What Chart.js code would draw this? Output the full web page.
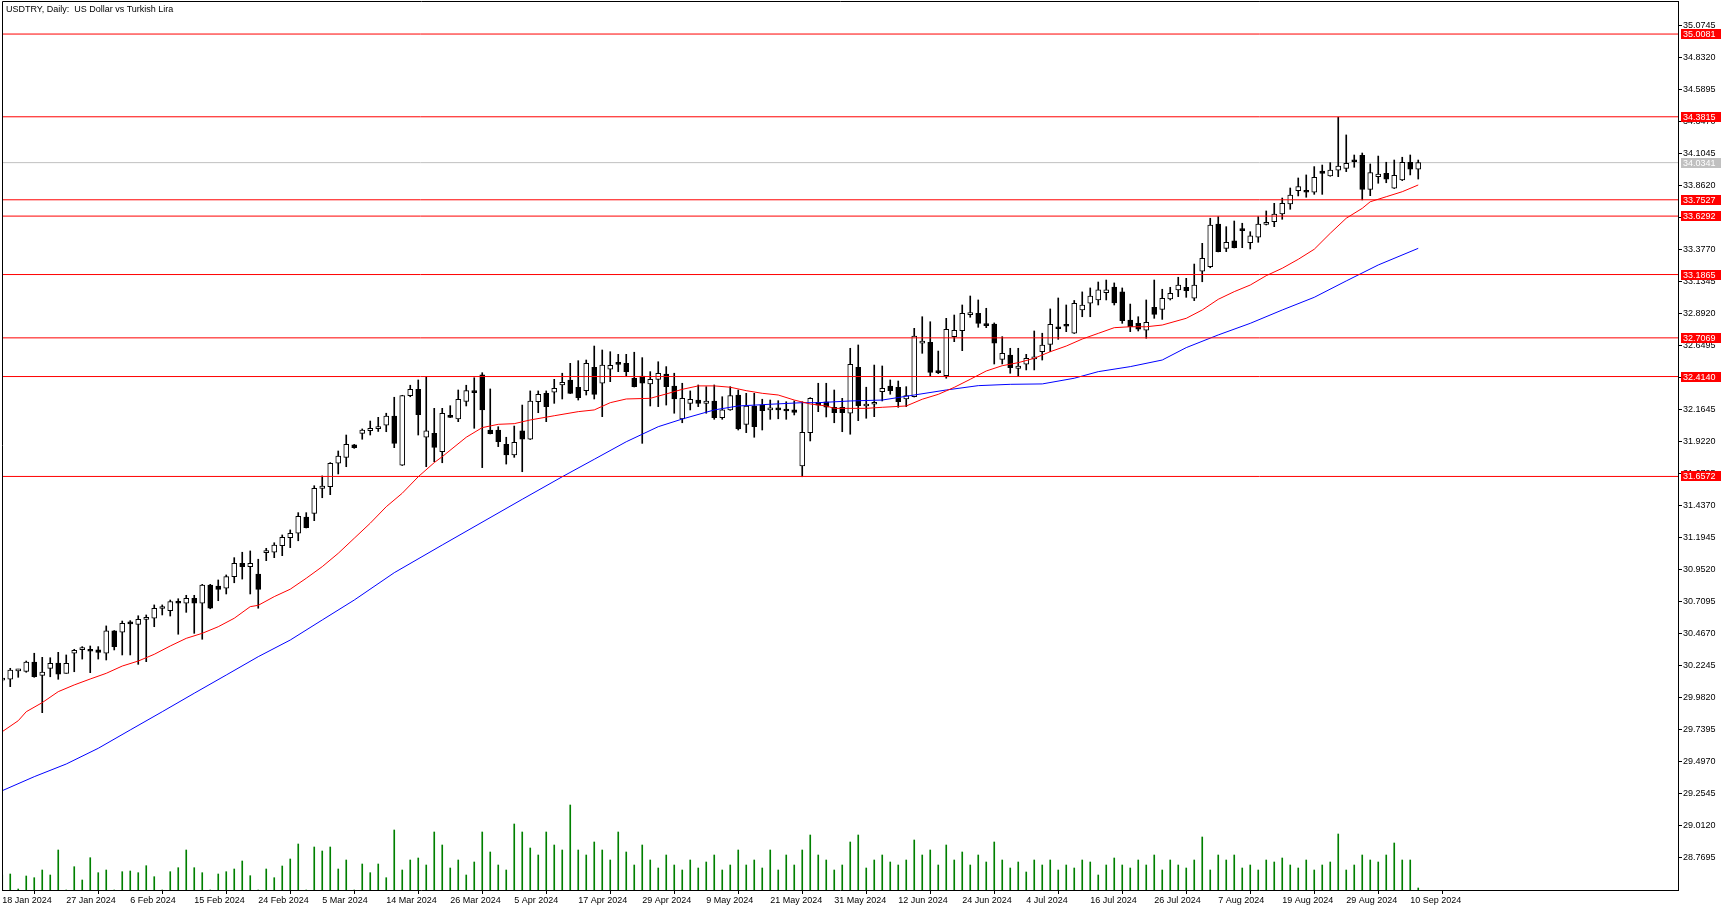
<!DOCTYPE html>
<html lang="en">
<head>
  <meta charset="UTF-8" />
  <title>USDTRY, Daily</title>
  <script src="https://cdn.jsdelivr.net/npm/chart.js"></script>
  <style>
    html, body { margin: 0; padding: 0; background: #fff; }
    #wrap { width: 1731px; height: 911px; position: relative; }
  </style>
</head>
<body>
  <div id="wrap"><canvas id="grafico"></canvas></div>

  <script>
    const title = "USDTRY, Daily:  US Dollar vs Turkish Lira";

    const dates = [
      "18 Jan 2024","19 Jan 2024","20 Jan 2024","22 Jan 2024","23 Jan 2024","24 Jan 2024","25 Jan 2024","26 Jan 2024","27 Jan 2024","29 Jan 2024","30 Jan 2024","31 Jan 2024",
      "1 Feb 2024","2 Feb 2024","3 Feb 2024","5 Feb 2024","6 Feb 2024","7 Feb 2024","8 Feb 2024","9 Feb 2024","10 Feb 2024","12 Feb 2024","13 Feb 2024","14 Feb 2024","15 Feb 2024","16 Feb 2024","17 Feb 2024","19 Feb 2024","20 Feb 2024","21 Feb 2024","22 Feb 2024","23 Feb 2024","24 Feb 2024","26 Feb 2024","27 Feb 2024","28 Feb 2024","29 Feb 2024",
      "1 Mar 2024","2 Mar 2024","4 Mar 2024","5 Mar 2024","6 Mar 2024","7 Mar 2024","8 Mar 2024","9 Mar 2024","11 Mar 2024","12 Mar 2024","13 Mar 2024","14 Mar 2024","15 Mar 2024","18 Mar 2024","19 Mar 2024","20 Mar 2024","21 Mar 2024","22 Mar 2024","25 Mar 2024","26 Mar 2024","27 Mar 2024","28 Mar 2024","29 Mar 2024",
      "1 Apr 2024","2 Apr 2024","3 Apr 2024","4 Apr 2024","5 Apr 2024","8 Apr 2024","9 Apr 2024","10 Apr 2024","11 Apr 2024","12 Apr 2024","15 Apr 2024","16 Apr 2024","17 Apr 2024","18 Apr 2024","19 Apr 2024","22 Apr 2024","23 Apr 2024","24 Apr 2024","25 Apr 2024","26 Apr 2024","29 Apr 2024","30 Apr 2024",
      "1 May 2024","2 May 2024","3 May 2024","6 May 2024","7 May 2024","8 May 2024","9 May 2024","10 May 2024","13 May 2024","14 May 2024","15 May 2024","16 May 2024","17 May 2024","20 May 2024","21 May 2024","22 May 2024","23 May 2024","24 May 2024","27 May 2024","28 May 2024","29 May 2024","30 May 2024","31 May 2024",
      "3 Jun 2024","4 Jun 2024","5 Jun 2024","6 Jun 2024","7 Jun 2024","10 Jun 2024","11 Jun 2024","12 Jun 2024","13 Jun 2024","14 Jun 2024","17 Jun 2024","18 Jun 2024","19 Jun 2024","20 Jun 2024","21 Jun 2024","24 Jun 2024","25 Jun 2024","26 Jun 2024","27 Jun 2024","28 Jun 2024",
      "1 Jul 2024","2 Jul 2024","3 Jul 2024","4 Jul 2024","5 Jul 2024","8 Jul 2024","9 Jul 2024","10 Jul 2024","11 Jul 2024","12 Jul 2024","15 Jul 2024","16 Jul 2024","17 Jul 2024","18 Jul 2024","19 Jul 2024","22 Jul 2024","23 Jul 2024","24 Jul 2024","25 Jul 2024","26 Jul 2024","29 Jul 2024","30 Jul 2024","31 Jul 2024",
      "1 Aug 2024","2 Aug 2024","5 Aug 2024","6 Aug 2024","7 Aug 2024","8 Aug 2024","9 Aug 2024","12 Aug 2024","13 Aug 2024","14 Aug 2024","15 Aug 2024","16 Aug 2024","19 Aug 2024","20 Aug 2024","21 Aug 2024","22 Aug 2024","23 Aug 2024","26 Aug 2024","27 Aug 2024","28 Aug 2024","29 Aug 2024","30 Aug 2024",
      "2 Sep 2024","3 Sep 2024","4 Sep 2024","5 Sep 2024","6 Sep 2024","9 Sep 2024","10 Sep 2024","11 Sep 2024"
    ];

    const opens = [
      30.115,30.121,30.184,30.181,30.252,30.151,30.204,30.244,30.166,30.318,30.346,30.348,30.343,30.318,30.487,30.477,30.545,30.537,30.575,30.583,
      30.657,30.641,30.709,30.697,30.734,30.697,30.835,30.827,30.810,30.898,30.999,30.974,30.918,31.080,31.083,31.133,31.193,31.227,31.350,31.378,
      31.567,31.580,31.757,31.802,31.896,31.984,32.004,32.020,32.045,32.115,31.742,32.269,32.317,31.954,31.984,31.845,32.115,32.092,32.226,32.305,
      32.426,32.009,32.009,31.901,31.820,32.002,31.939,32.223,32.287,32.295,32.350,32.388,32.333,32.307,32.484,32.363,32.469,32.514,32.514,32.401,
      32.418,32.358,32.393,32.433,32.342,32.092,32.211,32.236,32.211,32.229,32.102,32.161,32.274,32.052,32.191,32.198,32.161,32.173,32.161,32.161,
      31.737,31.989,32.219,32.223,32.181,32.181,32.136,32.484,32.191,32.204,32.299,32.342,32.333,32.244,32.261,32.666,32.673,32.448,32.420,32.716,
      32.761,32.883,32.893,32.810,32.812,32.544,32.577,32.476,32.507,32.547,32.602,32.658,32.787,32.804,32.742,32.918,32.969,32.994,33.050,33.092,
      33.055,32.842,32.817,32.766,32.939,32.923,33.001,33.070,33.090,33.007,33.213,33.246,33.569,33.385,33.441,33.529,33.428,33.469,33.567,33.587,
      33.645,33.721,33.822,33.822,33.810,33.971,33.933,33.978,33.991,34.054,34.090,33.832,33.928,33.953,33.840,33.903,34.037,33.984
    ];
    const highs = [
      30.125,30.204,30.197,30.259,30.318,30.287,30.284,30.325,30.305,30.348,30.368,30.373,30.368,30.525,30.490,30.562,30.565,30.602,30.608,30.684,
      30.684,30.721,30.731,30.757,30.757,30.840,30.840,30.873,30.911,31.042,31.083,31.093,31.030,31.113,31.155,31.214,31.252,31.383,31.383,31.587,
      31.661,31.762,31.850,31.971,31.900,32.017,32.077,32.105,32.136,32.257,32.272,32.348,32.388,32.413,32.173,32.173,32.193,32.312,32.348,32.405,
      32.443,32.320,32.034,31.954,32.039,32.198,32.305,32.305,32.305,32.393,32.439,32.514,32.534,32.539,32.645,32.615,32.602,32.582,32.582,32.598,
      32.557,32.451,32.526,32.489,32.439,32.363,32.305,32.350,32.337,32.350,32.261,32.337,32.312,32.287,32.287,32.242,32.236,32.231,32.223,32.229,
      32.223,32.254,32.363,32.363,32.312,32.249,32.628,32.653,32.333,32.501,32.494,32.388,32.380,32.337,32.779,32.867,32.829,32.607,32.855,32.880,
      32.956,33.024,32.994,32.931,32.820,32.716,32.628,32.628,32.582,32.759,32.742,32.926,33.009,32.956,32.990,33.055,33.085,33.130,33.145,33.123,
      33.085,32.963,32.867,32.994,33.145,33.075,33.090,33.166,33.158,33.266,33.423,33.613,33.625,33.549,33.592,33.575,33.511,33.625,33.668,33.726,
      33.766,33.842,33.918,33.941,34.004,34.016,34.034,34.378,34.244,34.092,34.107,34.024,34.084,34.037,34.054,34.075,34.092,34.054
    ];
    const lows = [
      30.100,30.065,30.136,30.174,30.136,29.868,30.140,30.121,30.166,30.178,30.274,30.171,30.274,30.267,30.343,30.305,30.305,30.234,30.254,30.519,
      30.608,30.600,30.462,30.628,30.469,30.424,30.655,30.716,30.767,30.852,30.880,30.767,30.659,31.019,31.042,31.057,31.118,31.170,31.267,31.322,
      31.496,31.519,31.676,31.731,31.870,31.939,31.971,31.998,31.996,31.875,31.740,32.261,31.971,31.731,31.769,31.761,32.103,32.072,32.191,32.022,
      31.724,31.979,31.883,31.751,31.802,31.693,31.937,32.140,32.072,32.211,32.244,32.285,32.236,32.274,32.244,32.110,32.375,32.451,32.413,32.335,
      31.908,32.191,32.186,32.198,32.136,32.064,32.161,32.186,32.136,32.090,32.090,32.158,32.009,31.989,31.954,32.009,32.090,32.094,32.090,32.123,
      31.655,31.926,32.148,32.108,32.064,31.996,31.977,32.080,32.098,32.110,32.229,32.280,32.181,32.186,32.259,32.590,32.418,32.436,32.401,32.678,
      32.610,32.863,32.787,32.784,32.509,32.509,32.439,32.413,32.464,32.464,32.539,32.602,32.696,32.754,32.740,32.867,32.867,32.956,32.994,32.956,
      32.817,32.754,32.759,32.704,32.855,32.847,32.994,33.019,33.014,32.989,33.132,33.238,33.358,33.360,33.388,33.390,33.380,33.431,33.562,33.549,
      33.605,33.681,33.782,33.772,33.794,33.794,33.931,33.928,33.966,33.999,33.752,33.784,33.878,33.882,33.838,33.898,33.941,33.910
    ];
    const closes = [
      30.120,30.191,30.188,30.252,30.140,30.176,30.242,30.159,30.242,30.341,30.350,30.333,30.325,30.487,30.368,30.545,30.540,30.575,30.579,30.659,
      30.661,30.709,30.697,30.734,30.697,30.835,30.659,30.802,30.898,30.999,30.974,30.999,30.802,31.085,31.138,31.196,31.227,31.355,31.269,31.567,
      31.585,31.757,31.812,31.901,31.875,32.009,32.022,32.024,32.115,31.908,32.269,32.317,32.125,32.002,31.878,32.136,32.105,32.242,32.307,32.292,
      32.161,31.981,31.920,31.820,31.916,31.939,32.229,32.279,32.186,32.325,32.370,32.287,32.254,32.514,32.279,32.501,32.499,32.506,32.451,32.337,
      32.363,32.393,32.439,32.337,32.244,32.249,32.242,32.211,32.229,32.102,32.161,32.269,32.017,32.191,32.034,32.155,32.173,32.161,32.153,32.143,
      31.992,32.249,32.198,32.181,32.140,32.140,32.507,32.193,32.204,32.219,32.325,32.307,32.223,32.269,32.721,32.683,32.446,32.444,32.772,32.764,
      32.893,32.886,32.817,32.799,32.666,32.590,32.481,32.494,32.552,32.564,32.653,32.810,32.776,32.795,32.969,32.956,33.024,33.070,33.070,32.971,
      32.837,32.791,32.772,32.825,32.885,33.007,33.044,33.107,33.064,33.107,33.310,33.562,33.360,33.431,33.390,33.519,33.479,33.569,33.582,33.645,
      33.726,33.789,33.852,33.810,33.923,33.953,33.978,34.009,34.029,34.041,33.832,33.958,33.948,33.908,33.938,34.037,33.984,34.034
    ];
    const volumes = [
      1500,1600,100,1400,1230,2000,1500,4000,0,2330,1000,3230,1730,2000,0,1830,1900,1730,2430,1330,
      0,1830,2230,4000,2230,1730,0,1600,1830,2100,2900,1430,0,2100,1230,2400,3100,4600,0,4300,
      3900,4300,2100,3000,0,2600,1730,2600,1230,6000,2000,3000,3200,2500,5800,4500,2200,3000,1500,2800,
      5800,3800,2500,2000,6600,5800,4200,3500,5800,4500,4000,8500,4000,3500,4800,4000,3000,5800,3800,2500,
      4500,3000,2200,3500,2500,2000,3000,2200,2800,3500,2000,2500,4000,2500,3000,2200,4000,2000,3500,2500,
      4000,5500,3500,3000,2000,2500,4800,5500,2200,3000,3500,2800,2500,3000,5000,3500,4000,2500,4500,3000,
      3800,2500,3500,2800,4800,3000,2200,2800,1800,3000,2500,3000,2000,2500,2200,3000,2800,1500,2500,3200,
      2500,2200,3000,2500,3500,2000,3000,2500,2200,3000,5300,2000,3500,3000,3500,2200,2500,2000,3000,2800,
      3200,2500,2200,3000,2000,2500,2800,5600,2000,2500,3500,3000,2800,3500,4700,3000,3000,200
    ];

    // moving averages (bar index -> value)
    const maRedBars = [0,2,3,5,7,9,11,13,15,17,19,21,23,25,27,29,31,32,34,36,38,40,42,44,46,48,50,52,54,55,58,60,62,64,66,69,72,74,76,78,81,83,85,87,89,91,93,95,97,99,101,103,104,108,110,113,115,117,119,121,123,125,127,129,131,133,135,137,139,141,143,145,148,150,152,154,156,158,160,162,164,166,168,170,171,173,175,177];
    const maRed = [29.724,29.807,29.875,29.944,30.027,30.078,30.123,30.166,30.221,30.259,30.310,30.373,30.431,30.469,30.519,30.583,30.671,30.681,30.747,30.803,30.886,30.974,31.075,31.189,31.303,31.428,31.530,31.655,31.762,31.807,31.954,32.027,32.052,32.057,32.085,32.117,32.148,32.161,32.216,32.244,32.249,32.282,32.317,32.343,32.343,32.333,32.307,32.287,32.274,32.236,32.206,32.191,32.173,32.173,32.181,32.191,32.242,32.279,32.332,32.393,32.456,32.496,32.519,32.552,32.602,32.645,32.698,32.741,32.784,32.791,32.791,32.804,32.855,32.918,32.999,33.057,33.107,33.178,33.234,33.302,33.378,33.499,33.613,33.688,33.738,33.776,33.814,33.865];
    const maBlueBars = [0,4,8,12,16,20,24,28,32,36,40,44,49,55,65,70,74,78,82,85,89,92,96,100,102,106,110,114,118,122,126,130,134,137,141,145,148,152,156,160,164,168,172,177];
    const maBlue = [29.277,29.383,29.479,29.598,29.737,29.875,30.015,30.153,30.292,30.418,30.570,30.721,30.928,31.138,31.484,31.655,31.787,31.920,32.034,32.092,32.161,32.191,32.204,32.216,32.216,32.229,32.236,32.274,32.312,32.345,32.355,32.358,32.401,32.451,32.489,32.539,32.633,32.729,32.817,32.918,33.014,33.138,33.259,33.385];

    const levels = [35.0081, 34.3815, 33.7527, 33.6292, 33.1865, 32.7069, 32.4140, 31.6572];
    const bidPrice = 34.0341;

    const priceTicks = [35.0745,34.8320,34.5895,34.3470,34.1045,33.8620,33.6195,33.3770,33.1345,32.8920,32.6495,32.4070,32.1645,31.9220,31.6795,31.4370,31.1945,30.9520,30.7095,30.4670,30.2245,29.9820,29.7395,29.4970,29.2545,29.0120,28.7695];

    const fuente = { family: "'Liberation Sans', Arial, sans-serif", size: 9 };

    const bodyColors = opens.map((o, i) => closes[i] >= o ? '#ffffff' : '#000000');

    const datasets = [];

    levels.forEach(v => {
      datasets.push({
        type: 'line', data: [{ x: -1, y: v }, { x: 260, y: v }],
        borderColor: '#ff0000', borderWidth: 1, pointRadius: 0, order: 1
      });
    });
    datasets.push({
      type: 'line', data: [{ x: -1, y: bidPrice }, { x: 260, y: bidPrice }],
      borderColor: '#c0c0c0', borderWidth: 1, pointRadius: 0, order: 7
    });

    datasets.push({
      type: 'line', data: maRedBars.map((b, i) => ({ x: b, y: maRed[i] })),
      borderColor: '#ff0000', borderWidth: 1, pointRadius: 0, tension: 0, order: 2
    });
    datasets.push({
      type: 'line', data: maBlueBars.map((b, i) => ({ x: b, y: maBlue[i] })),
      borderColor: '#0000ff', borderWidth: 1, pointRadius: 0, tension: 0, order: 2
    });

    datasets.push({
      type: 'bar', data: dates.map((d, i) => ({ x: i, y: [lows[i], highs[i]] })),
      backgroundColor: '#000000', barThickness: 1, minBarLength: 1, grouped: false, order: 4
    });
    datasets.push({
      type: 'bar', data: dates.map((d, i) => ({ x: i, y: [opens[i], closes[i]] })),
      backgroundColor: bodyColors, borderColor: '#000000', borderWidth: 1, borderSkipped: false,
      barThickness: 5, minBarLength: 2, grouped: false, order: 3
    });
    datasets.push({
      type: 'bar', yAxisID: 'yv', data: dates.map((d, i) => ({ x: i, y: volumes[i] })),
      backgroundColor: '#008000', barThickness: 1, grouped: false, order: 6
    });

    const decor = {
      id: 'decor',
      afterDraw(chart) {
        const { ctx, chartArea: a, scales: { y } } = chart;
        ctx.save();
        ctx.strokeStyle = '#000';
        ctx.lineWidth = 1;
        ctx.beginPath();
        ctx.moveTo(a.left + 0.5, a.bottom);
        ctx.lineTo(a.left + 0.5, a.top + 0.5);
        ctx.lineTo(a.right, a.top + 0.5);
        ctx.stroke();

        ctx.font = "9px 'Liberation Sans', Arial, sans-serif";
        ctx.fillStyle = '#000';
        ctx.textBaseline = 'top';
        ctx.textAlign = 'left';
        ctx.fillText(title, a.left + 4, a.top + 4);

        // price tags on the right axis
        ctx.textBaseline = 'middle';
        const tag = (v, color) => {
          const py = Math.round(y.getPixelForValue(v));
          ctx.fillStyle = color;
          ctx.fillRect(a.right + 3, py - 5, 40, 10);
          ctx.fillStyle = '#fff';
          ctx.fillText(v.toFixed(4), a.right + 5, py + 0.5);
        };
        levels.forEach(v => tag(v, '#ff0000'));
        tag(bidPrice, '#c0c0c0');
        ctx.restore();
      }
    };

    new Chart(document.getElementById('grafico'), {
      data: { datasets },
      plugins: [decor],
      options: {
        responsive: true,
        maintainAspectRatio: false,
        animation: false,
        layout: { padding: { left: 2, top: 1, right: 0, bottom: 0 } },
        plugins: { legend: { display: false }, tooltip: { enabled: false } },
        scales: {
          x: {
            type: 'linear', min: -0.03, max: 209.47, offset: false,
            grid: { drawOnChartArea: false, drawTicks: true, tickLength: 4, color: '#000' },
            border: { display: true, color: '#000', width: 1 },
            ticks: {
              align: 'start', padding: 1, maxRotation: 0, autoSkip: false,
              color: '#000', font: fuente,
              callback: v => dates[v] || ''
            },
            afterBuildTicks: s => { s.ticks = dates.map((d, i) => i).filter(i => i % 8 === 0).map(v => ({ value: v })); },
            afterFit: s => { s.height = 21; s.paddingLeft = 0; s.paddingRight = 0; }
          },
          y: {
            type: 'linear', position: 'right', min: 28.5247, max: 35.2585,
            grid: { drawOnChartArea: false, drawTicks: true, tickLength: 4, color: '#000' },
            border: { display: true, color: '#000', width: 1 },
            ticks: { padding: 1, color: '#000', font: fuente, callback: v => Number(v).toFixed(4) },
            afterBuildTicks: s => { s.ticks = priceTicks.map(v => ({ value: v })); },
            afterFit: s => { s.width = 53; s.paddingTop = 0; s.paddingBottom = 0; }
          },
          yv: { type: 'linear', display: false, min: 0, max: 88900 }
        }
      }
    });
  </script>
</body>
</html>
